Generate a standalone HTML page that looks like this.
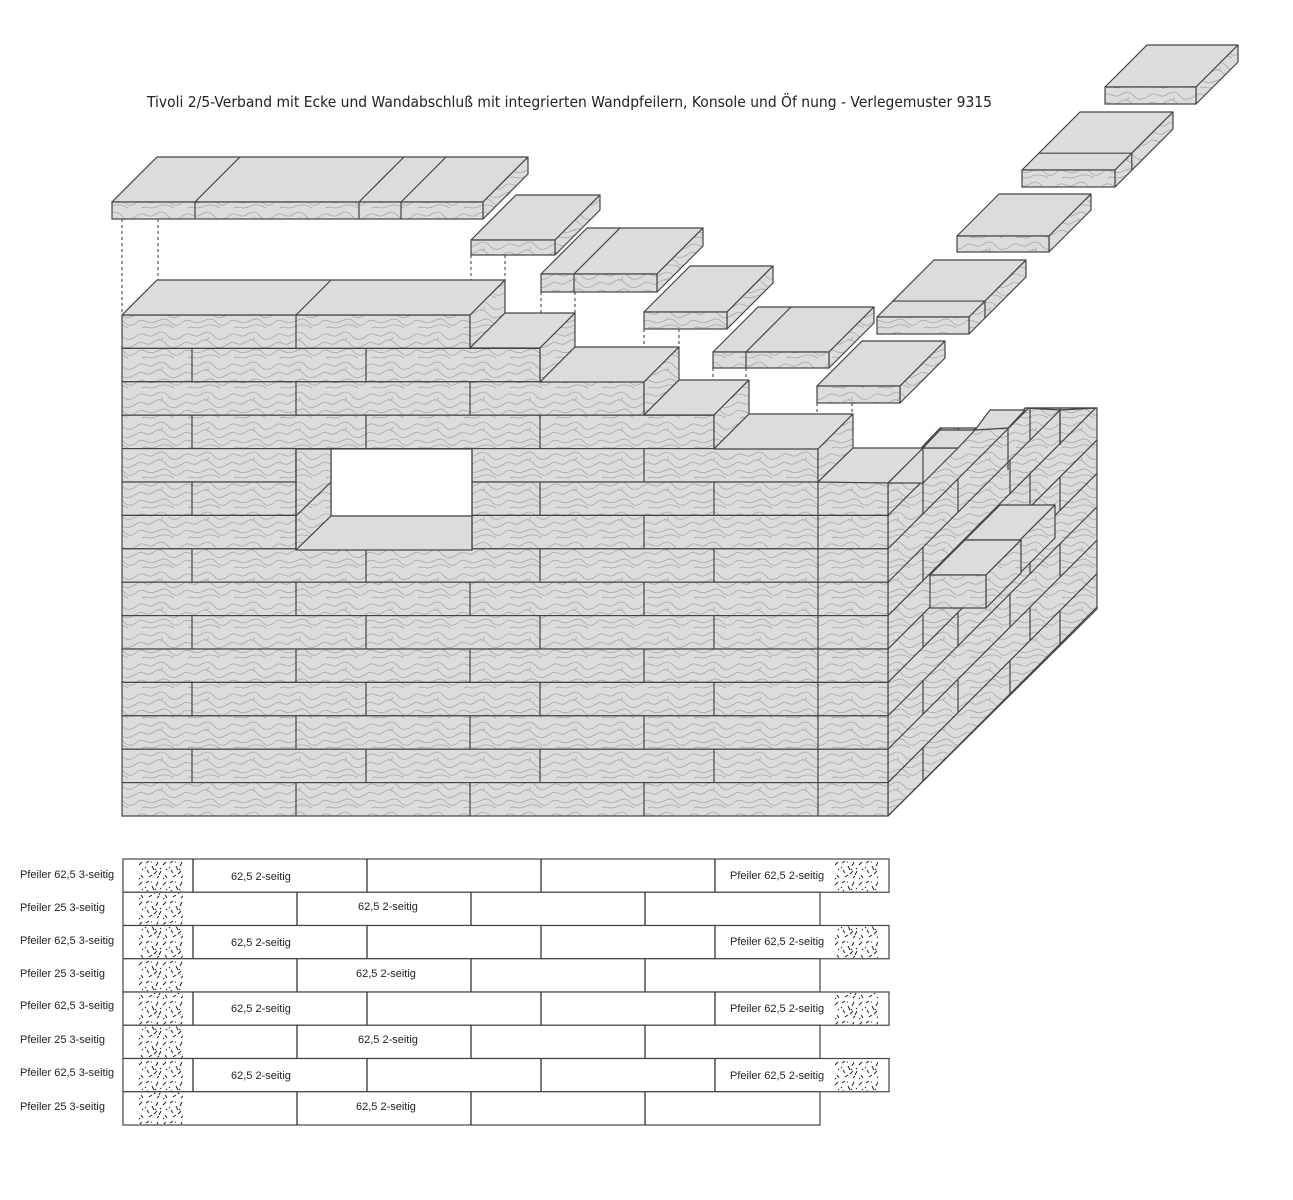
<!DOCTYPE html>
<html><head><meta charset="utf-8">
<style>
html,body{margin:0;padding:0;background:#fff;}
svg{display:block;}
text{font-family:"DejaVu Sans","Liberation Sans",sans-serif;fill:#222;}
g.tb text{font-family:"Liberation Sans","DejaVu Sans",sans-serif;}
</style></head>
<body>
<svg id="s" width="1293" height="1200" viewBox="0 0 1293 1200" xmlns="http://www.w3.org/2000/svg">
<defs>
<pattern id="tx" width="46" height="30" patternUnits="userSpaceOnUse">
<rect width="46" height="30" fill="#dcdcdc"/>
<g fill="none" stroke="#a9a9a9" stroke-width="0.8">
<path d="M0 5 C6 1,10 9,16 5 S26 1,30 6 S40 10,46 5"/>
<path d="M0 13 C5 10,8 17,14 13 S22 8,28 14 S38 18,46 13"/>
<path d="M0 21 C7 18,9 25,17 22 S27 17,32 22 S41 26,46 21"/>
<path d="M4 28 C8 25,12 30,18 27 S30 24,36 28"/>
<path d="M20 9 C22 11,25 10,24 7"/>
</g>
</pattern>
<pattern id="hx" width="24" height="20" patternUnits="userSpaceOnUse">
<rect width="24" height="20" fill="#fff"/>
<g stroke="#222" stroke-width="1">
<path d="M2 3 l3 -2 M8 6 l2 4 M14 2 l-2 4 M19 5 l3 -3 M3 10 l2 3 M10 14 l3 -3 M17 11 l-2 4 M21 15 l2 3 M5 17 l3 -2 M13 18 l2 -2 M1 7 l1 1 M16 8 l1 1 M7 2 l1 0 M22 9 l1 1 M11 9 l1 1 M19 18 l1 1"/>
</g>
</pattern>
</defs>
<text x="147" y="107" font-size="15" textLength="845" lengthAdjust="spacingAndGlyphs">Tivoli 2/5-Verband mit Ecke und Wandabschluß mit integrierten Wandpfeilern, Konsole und Öf nung - Verlegemuster 9315</text>
<g id="g"></g>

<g class="tb" font-size="11">
<text x="20" y="878">Pfeiler 62,5  3-seitig</text>
<text x="20" y="911">Pfeiler 25  3-seitig</text>
<text x="20" y="944">Pfeiler 62,5  3-seitig</text>
<text x="20" y="977">Pfeiler 25  3-seitig</text>
<text x="20" y="1009">Pfeiler 62,5  3-seitig</text>
<text x="20" y="1043">Pfeiler 25  3-seitig</text>
<text x="20" y="1076">Pfeiler 62,5  3-seitig</text>
<text x="20" y="1110">Pfeiler 25  3-seitig</text>

<text x="231" y="880">62,5  2-seitig</text>
<text x="358" y="910">62,5  2-seitig</text>
<text x="231" y="946">62,5  2-seitig</text>
<text x="356" y="977">62,5  2-seitig</text>
<text x="231" y="1012">62,5  2-seitig</text>
<text x="358" y="1043">62,5  2-seitig</text>
<text x="231" y="1079">62,5  2-seitig</text>
<text x="356" y="1110">62,5  2-seitig</text>

<text x="730" y="879">Pfeiler 62,5  2-seitig</text>
<text x="730" y="945">Pfeiler 62,5  2-seitig</text>
<text x="730" y="1012">Pfeiler 62,5  2-seitig</text>
<text x="730" y="1079">Pfeiler 62,5  2-seitig</text>
</g>
</svg>
<script>
var g=document.getElementById('g'),NS='http://www.w3.org/2000/svg';
function el(t,a){var e=document.createElementNS(NS,t);for(var k in a)e.setAttribute(k,a[k]);g.appendChild(e);return e;}
function poly(pts,fill,sw){return el('polygon',{points:pts.map(function(p){return p.join(',')}).join(' '),fill:fill,stroke:'#444','stroke-width':sw||1.2,'stroke-linejoin':'round'});}
function line(x1,y1,x2,y2,c,w,d){var a={x1:x1,y1:y1,x2:x2,y2:y2,stroke:c||'#444','stroke-width':w||1.2};if(d)a['stroke-dasharray']=d;return el('line',a);}
function rect(x,y,w,h,f){return el('rect',{x:x,y:y,width:w,height:h,fill:f,stroke:'#444','stroke-width':1.2});}
function slab(x1,x2,y,h,d,fdiv,tdiv){
  poly([[x1,y],[x1+d,y-d],[x2+d,y-d],[x2,y]],'#dcdcdc');
  poly([[x2,y],[x2+d,y-d],[x2+d,y-d+h],[x2,y+h]],'url(#tx)');
  rect(x1,y,x2-x1,h,'url(#tx)');
  (fdiv||[]).forEach(function(x){line(x,y,x+d,y-d);line(x,y,x,y+h);});
  (tdiv||[]).forEach(function(f){var dd=d*f;line(x1+dd,y-dd,x2+dd,y-dd);line(x2+dd,y-dd,x2+dd,y-dd+h);});
}
[[122,219,122,315],[158,219,158,280],[471,255,471,348],[505,255,505,313],[541,292,541,382],[575,292,575,347],[644,329,644,415],[679,329,679,380],[713,368,713,449],[746,368,746,414],[817,403,817,482],[852,403,852,448]].forEach(function(l){line(l[0],l[1],l[2],l[3],'#333',1,'3,3');});

var sideP=[[888,816],[1097,609],[1097,408],[1025,408],[1008,428],[940,428],[888,483]];
poly(sideP,'url(#tx)');
var cp=el('clipPath',{id:'cp'});var pp=document.createElementNS(NS,'polygon');pp.setAttribute('points',sideP.map(function(p){return p.join(',')}).join(' '));cp.appendChild(pp);
var sg=document.createElementNS(NS,'g');sg.setAttribute('clip-path','url(#cp)');g.appendChild(sg);
function sl(x1,y1,x2,y2){var e=document.createElementNS(NS,'line');e.setAttribute('x1',x1);e.setAttribute('y1',y1);e.setAttribute('x2',x2);e.setAttribute('y2',y2);e.setAttribute('stroke','#444');e.setAttribute('stroke-width','1.2');sg.appendChild(e);}
var R=33.4;
for(var i=0;i<=15;i++){var y=315+i*R;sl(888,y,1100,y-212);}
for(var i=5;i<15;i++){var y0=315+i*R,y1=y0+R;
  var xs=(i%2==0)?[923,1010,1060]:[958,1030];
  xs.forEach(function(x){var dx=x-888;sl(x,y0-dx,x,y1-dx);});}
poly([[888,483],[923,448],[958,448],[923,483]],'#dcdcdc');
poly([[923,448],[940,430],[975,430],[958,448]],'#dcdcdc');
poly([[975,430],[1008,428],[1025,410],[990,410]],'#dcdcdc');
poly([[1025,408],[1060,408],[1097,408],[1060,410]],'#dcdcdc');
line(923,448,923,483);line(1008,428,1008,470);line(1060,408,1060,445);

var A=[296,470,644,818],B=[192,366,540,714,818];
var ends=[470,540,644,714,818];
for(var i=0;i<15;i++){
  var y=315+i*R,xe=i<5?ends[i]:888;
  rect(122,y,xe-122,R,'url(#tx)');
  (i%2==0?A:B).forEach(function(x){if(x<xe)line(x,y,x,y+R);});
}
poly([[122,315],[157,280],[505,280],[470,315]],'#dcdcdc');line(296,315,331,280);
poly([[470,315],[505,280],[505,313],[470,348]],'url(#tx)');
poly([[470,348],[505,313],[575,313],[540,348]],'#dcdcdc');
poly([[540,348],[575,313],[575,347],[540,382]],'url(#tx)');
poly([[540,382],[575,347],[679,347],[644,382]],'#dcdcdc');
poly([[644,382],[679,347],[679,380],[644,415]],'url(#tx)');
poly([[644,415],[679,380],[749,380],[714,415]],'#dcdcdc');
poly([[714,415],[749,380],[749,414],[714,449]],'url(#tx)');
poly([[714,449],[749,414],[853,414],[818,449]],'#dcdcdc');
poly([[818,449],[853,414],[853,448],[818,482]],'url(#tx)');
poly([[818,482],[853,448],[923,448],[888,483]],'#dcdcdc');
rect(331,449,141,67,'#fff');
poly([[296,449],[331,449],[331,516],[296,550]],'url(#tx)');
line(296,516,331,482);
poly([[296,550],[331,516],[472,516],[472,550]],'#dcdcdc');
line(296,449,296,550);line(472,449,472,550);

poly([[965,540],[1000,505],[1055,505],[1020,540]],'#dcdcdc');
poly([[1020,540],[1055,505],[1055,538],[1020,573]],'url(#tx)');
poly([[930,575],[965,540],[1021,540],[986,575]],'#dcdcdc');
poly([[986,575],[1021,540],[1021,573],[986,608]],'url(#tx)');
rect(930,575,56,33,'url(#tx)');

slab(112,483,202,17,45,[195,359,401]);
slab(471,555,240,15,45);
slab(541,657,274,18,46,[574]);
slab(644,727,312,17,46);
slab(713,829,352,16,45,[746]);
slab(817,900,386,17,45);
slab(877,969,317,17,57,null,[0.28]);
slab(957,1049,236,16,42);
slab(1022,1115,170,17,58,null,[0.29]);
slab(1105,1196,87,17,42);

var T=859,h=33.25;
for(var r=0;r<8;r++){
  var y=T+r*h;
  if(r%2==0){
    rect(123,y,766,h,'#fff');
    el('rect',{x:137,y:y+1,width:46,height:h-2,fill:'url(#hx)'});
    el('rect',{x:833,y:y+1,width:45,height:h-2,fill:'url(#hx)'});
    [193,367,541,715].forEach(function(x){line(x,y,x,y+h,'#333',1.3);});
  } else {
    rect(123,y,697,h,'#fff');
    el('rect',{x:137,y:y+1,width:46,height:h-2,fill:'url(#hx)'});
    [297,471,645].forEach(function(x){line(x,y,x,y+h,'#333',1.3);});
  }
}
var texts=document.querySelectorAll('svg > g[font-size]');texts.forEach(function(t){t.parentNode.appendChild(t);});
</script>
</body></html>
